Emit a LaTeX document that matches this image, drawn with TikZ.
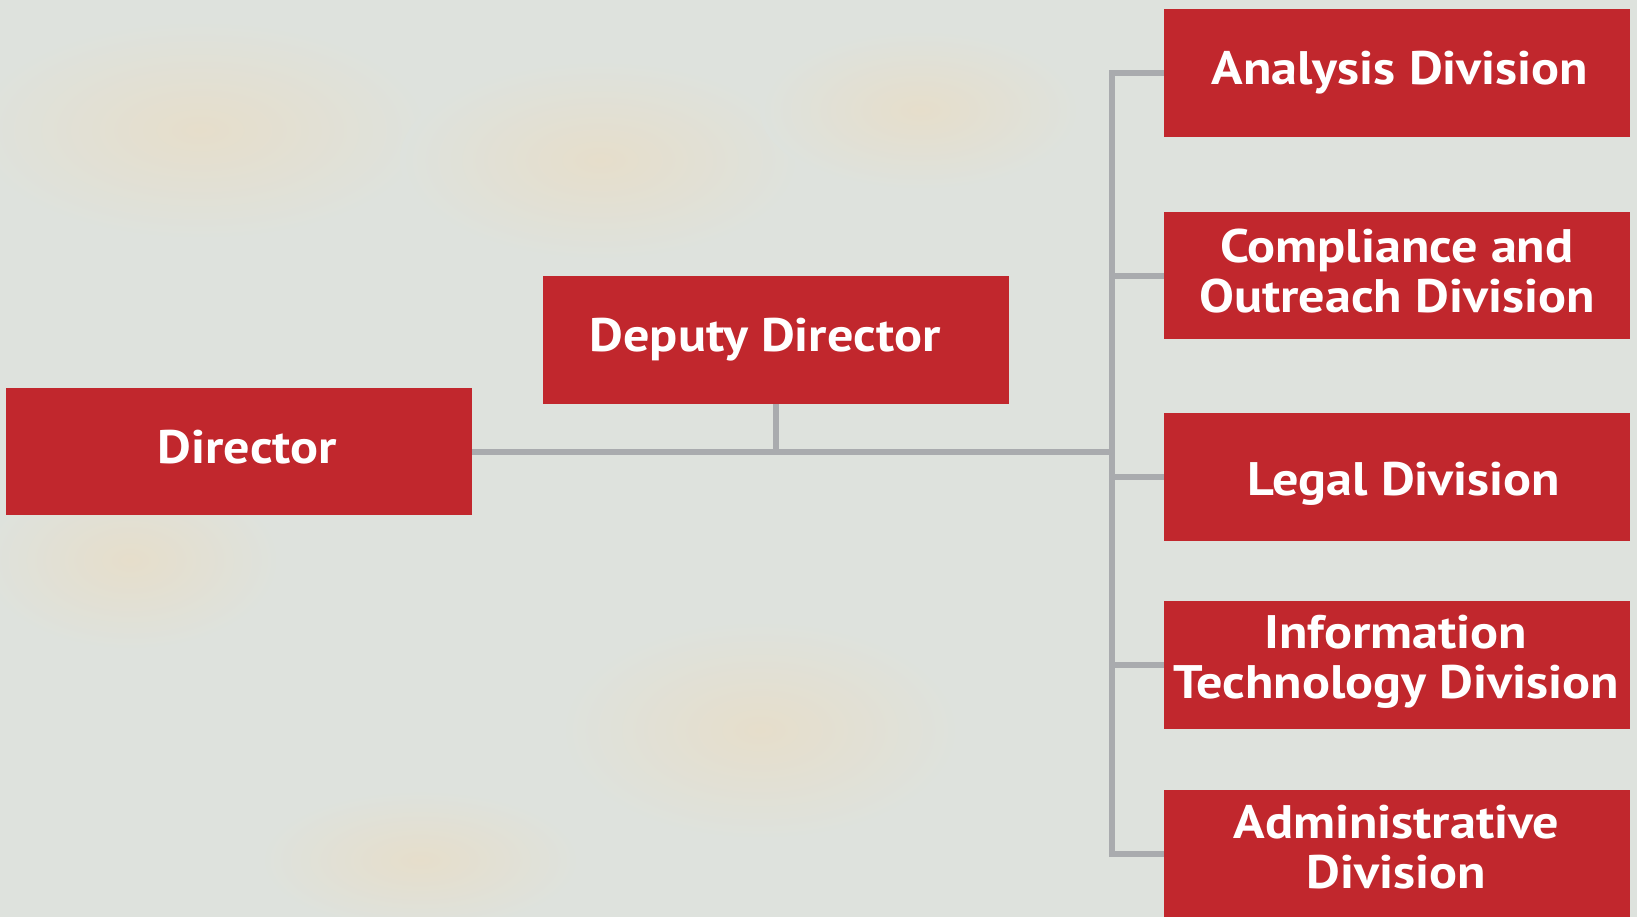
\documentclass[tikz,border=0pt]{standalone}
\usepackage{fontspec}
\setmainfont{PT Sans}[FakeStretch=1.11]
\definecolor{bg}{RGB}{222,226,221}
\definecolor{beige}{RGB}{230,222,203}
\definecolor{boxred}{RGB}{193,39,45}
\definecolor{linegray}{RGB}{169,171,174}
\tikzset{
  orgbox/.style={rectangle, fill=boxred, draw=none, inner sep=0pt, minimum width=466pt, minimum height=127pt},
  orgtext/.style={text=white, font=\fontsize{47}{50}\selectfont\bfseries, align=center, inner sep=0pt, anchor=base},
  conn/.style={draw=linegray, line width=6pt, line join=miter},
  blot/.style={inner color=beige, outer color=bg}
}
\begin{document}
\begin{tikzpicture}[x=1pt,y=-1pt]
\fill[bg] (0,0) rectangle (1637,917);
\useasboundingbox (0,0) rectangle (1637,917);
% soft texture patches
\shade[blot] (200,130) ellipse (230 and 110);
\shade[blot] (600,160) ellipse (200 and 100);
\shade[blot] (920,110) ellipse (160 and 80);
\shade[blot] (130,560) ellipse (150 and 90);
\shade[blot] (760,730) ellipse (200 and 110);
\shade[blot] (420,860) ellipse (160 and 70);
% boxes
\node[orgbox] (dir) at (239,451.5) {};
\node[orgbox, minimum height=128pt] (dep) at (776,340) {};
\node[orgbox, minimum height=128pt] (ana) at (1397,73) {};
\node[orgbox] (com) at (1397,275.5) {};
\node[orgbox, minimum height=128pt] (leg) at (1397,477) {};
\node[orgbox, minimum height=128pt] (itd) at (1397,665) {};
\node[orgbox, minimum height=128pt] (adm) at (1397,854) {};
\coordinate (tr) at (1112,0);
% texts
\node[orgtext] (dirT) at (247.5,463) {Director};
\node[orgtext] (depT) at (765,351) {Deputy Director};
\node[orgtext] (anaT) at (1400,85) {Analysis Division};
\node[orgtext] (comT) at (1397,312) {Compliance and\\Outreach Division};
\node[orgtext] (legT) at (1404,495) {Legal Division};
\node[orgtext] (itdT) at (1396,698) {Information\\Technology Division};
\node[orgtext] (admT) at (1396.5,888) {Administrative\\Division};
% connectors
\draw[conn] (ana.west) -- (ana.west -| tr) -- (adm.west -| tr) -- (adm.west);
\draw[conn] (com.west) -- (com.west -| tr);
\draw[conn] (leg.west) -- (leg.west -| tr);
\draw[conn] (itd.west) -- (itd.west -| tr);
\draw[conn] (dir.east) -- (dir.east -| tr);
\draw[conn] (dep.south) -- (dep.south |- dir.east);
\end{tikzpicture}
\end{document}
